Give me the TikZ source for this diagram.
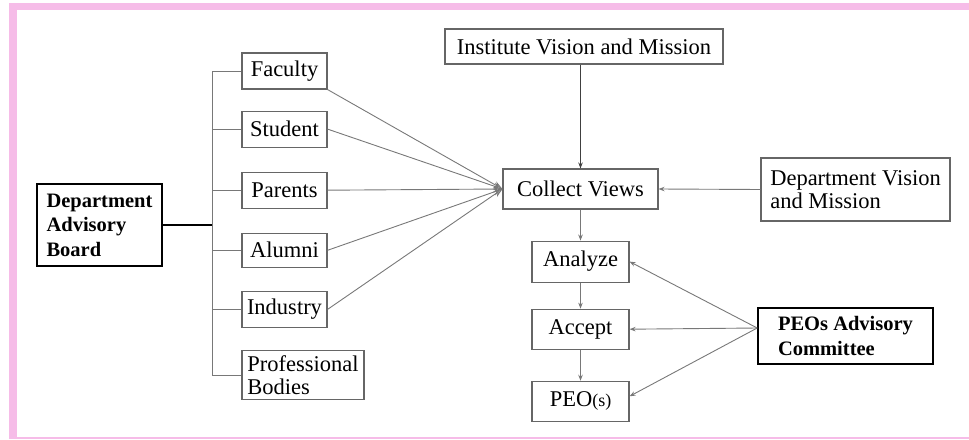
\documentclass[tikz,border=0pt]{standalone}
\usepackage{fontspec}
\setmainfont{Liberation Serif}
\usepackage{tikz}
\usetikzlibrary{arrows.meta,positioning}
\definecolor{frm}{RGB}{246,188,232}
\definecolor{ln}{RGB}{120,120,120}
\newcommand{\txt}{\fontsize{22.5}{23}\selectfont}
\newcommand{\btxt}{\fontsize{20.5}{24.5}\selectfont\bfseries}

\begin{document}
\begin{tikzpicture}[x=1pt,y=-1pt,
  box/.style={rectangle,draw=black!60,line width=1.1pt,align=left,
    inner sep=4pt,font=\txt,minimum width=85pt,minimum height=36pt},
  mainbox/.style={rectangle,draw=black,line width=1.6pt,align=left,
    inner sep=4pt,font=\btxt},
  link/.style={draw=ln,line width=0.9pt},
  arr/.style={link,-{Stealth[length=6pt,width=4.5pt]}},
  bigarr/.style={link,-{Stealth[length=9pt,width=7pt,open]}}]
  \useasboundingbox (0,0) rectangle (969,439);
  % pink frame
  \fill[frm] (9,3) rectangle (969,10);
  \fill[frm] (9,3) rectangle (17,439);
  \fill[frm] (9,437) rectangle (969,439);
  % left column
  \node[mainbox,minimum width=125pt,minimum height=82pt] (dab) at (99.5,225)
    {Department\\Advisory\\Board};
  \node[box] (fac) at (284.5,71) {Faculty};
  \node[box,below=21pt of fac] (stu) {Student};
  \node[box,below=24pt of stu] (par) {Parents};
  \node[box,below=24pt of par,minimum height=34pt] (alu) {Alumni};
  \node[box,below=23pt of alu] (ind) {Industry};
  \node[box,below=22pt of ind.south west,anchor=north west,minimum width=122pt,
    minimum height=49pt] (prof) {Professional\\Bodies};
  % right part
  \node[box,minimum width=278pt,minimum height=35pt] (ivm) at (584,46.5)
    {Institute Vision and Mission};
  \node[box,minimum width=155pt,minimum height=40pt] (cv) at (580.5,189)
    {Collect Views};
  \node[box,minimum width=189pt,minimum height=63pt] (dvm) at (855.5,189.5)
    {Department Vision\\and Mission};
  \node[box,below=31pt of cv,minimum width=97pt,minimum height=41pt] (ana) {Analyze};
  \node[box,below=26pt of ana,minimum width=97pt,minimum height=40pt] (acc) {Accept};
  \node[box,below=31pt of acc,minimum width=97pt,minimum height=40pt] (peo)
    {PEO{\fontsize{18}{20}\selectfont(s)}};
  \node[mainbox,minimum width=175pt,minimum height=56pt] (pac) at (845.5,336)
    {PEOs Advisory\\Committee};
  % bus
  \coordinate (bus) at (212,225);
  \draw[black,line width=1.5pt] (dab.east) -- (bus);
  \draw[link] (fac.west -| bus) -- (prof.west -| bus);
  \foreach \n in {fac,stu,par,alu,ind,prof}
    \draw[link] (\n.west -| bus) -- (\n.west);
  % views
  \draw[bigarr] (fac.south east) -- (cv.west);
  \foreach \n in {stu,par,alu,ind}
    \draw[bigarr] (\n.east) -- (cv.west);
  \draw[arr,draw=black!75,line width=1.4pt] (ivm.south -| cv) -- (cv.north);
  \draw[arr] (dvm.west) -- (cv.east);
  \draw[arr] (cv) -- (ana);
  \draw[arr] (ana) -- (acc);
  \draw[arr] (acc) -- (peo);
  \draw[arr] ([yshift=8pt]pac.west) -- (ana.east);
  \draw[arr] ([yshift=8pt]pac.west) -- (acc.east);
  \draw[arr] ([yshift=8pt]pac.west) -- ([yshift=5pt]peo.east);
\end{tikzpicture}
\end{document}
